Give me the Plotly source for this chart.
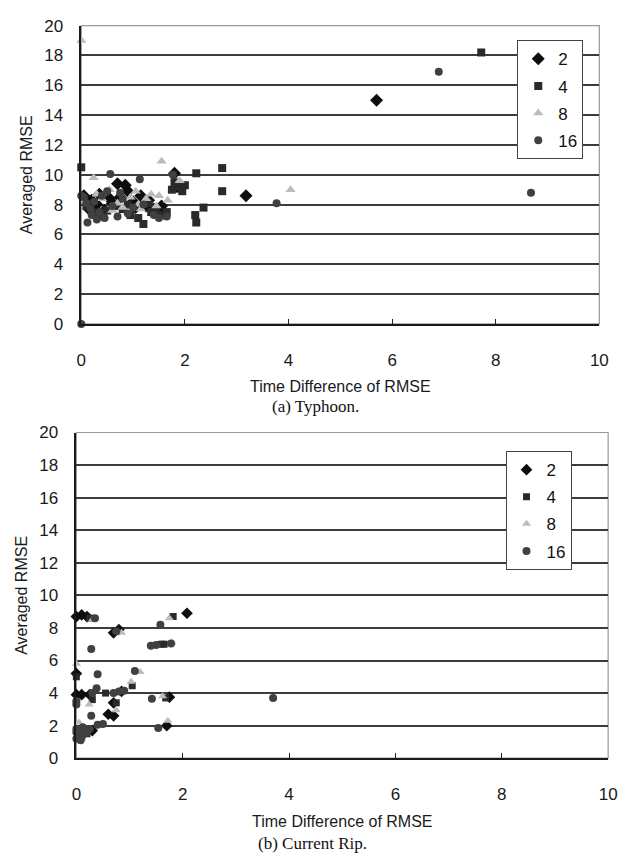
import plotly.graph_objects as go

# ---------------- (a) Typhoon ----------------
typhoon_2_x = [0.05, 0.15, 0.2, 0.3, 0.35, 0.45, 0.55, 0.6, 0.7, 0.75, 0.85, 0.9, 1.0, 1.05, 1.15, 1.25, 1.3, 1.4, 1.55, 1.6, 1.8, 1.85, 3.18, 5.7]
typhoon_2_y = [8.6, 7.7, 8.3, 8.0, 8.7, 7.6, 8.4, 8.1, 9.4, 8.5, 9.3, 8.9, 8.2, 7.8, 8.6, 7.9, 8.3, 7.7, 7.9, 7.4, 10.1, 9.2, 8.6, 15.0]

typhoon_4_x = [0.0, 0.1, 0.25, 0.4, 0.5, 0.65, 0.8, 0.9, 0.95, 1.1, 1.2, 1.3, 1.35, 1.45, 1.55, 1.65, 1.75, 1.8, 1.9, 1.95, 2.0, 2.22, 2.2, 2.22, 2.36, 2.72, 2.72, 7.72]
typhoon_4_y = [10.5, 7.9, 7.4, 7.2, 7.6, 7.9, 7.7, 8.0, 7.3, 7.1, 6.7, 8.1, 7.5, 7.6, 7.3, 7.5, 9.0, 9.5, 9.2, 8.9, 9.3, 10.1, 7.3, 6.8, 7.8, 10.45, 8.9, 18.2]

typhoon_8_x = [0.0, 0.24, 0.3, 0.4, 0.55, 0.6, 0.7, 0.8, 0.95, 1.05, 1.1, 1.15, 1.25, 1.35, 1.45, 1.5, 1.55, 1.67, 1.9, 4.04]
typhoon_8_y = [19.0, 9.8, 8.7, 8.4, 9.0, 7.6, 8.1, 7.8, 8.5, 8.9, 8.0, 7.7, 8.4, 8.7, 7.9, 8.6, 10.9, 8.3, 9.6, 9.0]

typhoon_16_x = [0.0, 0.0, 0.05, 0.1, 0.12, 0.18, 0.2, 0.25, 0.3, 0.35, 0.4, 0.45, 0.5, 0.56, 0.6, 0.7, 0.75, 0.8, 0.9, 1.0, 1.13, 1.2, 1.4, 1.5, 1.65, 1.77, 3.77, 6.9, 8.68]
typhoon_16_y = [0.0, 8.6, 8.5, 8.1, 6.8, 7.7, 7.3, 8.2, 7.0, 7.5, 8.6, 7.1, 8.9, 10.05, 7.9, 7.2, 8.8, 8.4, 7.4, 7.8, 9.7, 8.0, 7.3, 7.1, 7.2, 10.0, 8.1, 16.9, 8.8]

# ---------------- (b) Current Rip ----------------
rip_2_x = [0.0, 0.1, 0.2, 0.7, 0.8, 2.08, 0.0, 0.0, 0.1, 0.25, 0.6, 0.7, 1.7, 0.7, 0.05, 0.15, 1.75, 0.85, 0.3]
rip_2_y = [8.7, 8.8, 8.7, 7.7, 7.9, 8.9, 5.2, 3.9, 3.9, 3.9, 2.7, 2.6, 2.0, 3.4, 1.5, 1.6, 3.75, 4.1, 1.7]

rip_4_x = [0.25, 1.82, 1.65, 0.0, 1.05, 0.0, 0.75, 0.05, 0.2, 1.68, 0.55, 0.3, 0.1, 1.6]
rip_4_y = [8.6, 8.7, 7.0, 5.0, 4.45, 3.4, 3.4, 1.3, 1.5, 3.7, 4.0, 3.6, 1.8, 7.0]

rip_8_x = [0.3, 0.85, 1.75, 0.0, 1.2, 1.03, 0.24, 0.75, 1.72, 1.62, 0.1, 0.35, 0.05, 1.8]
rip_8_y = [8.5, 7.7, 8.6, 5.8, 5.3, 4.7, 3.3, 2.95, 2.3, 3.8, 1.2, 4.2, 2.2, 7.1]

rip_16_x = [0.35, 0.28, 0.75, 1.58, 1.4, 1.5, 1.78, 0.4, 1.1, 0.7, 0.8, 0.9, 0.38, 1.42, 0.0, 0.0, 0.28, 0.4, 0.5, 0.0, 0.05, 0.1, 0.15, 0.2, 0.0, 0.08, 0.25, 1.54, 3.7, 0.0, 0.12, 0.3]
rip_16_y = [8.6, 6.7, 7.8, 8.2, 6.9, 6.95, 7.05, 5.15, 5.35, 4.0, 4.1, 4.15, 4.3, 3.65, 3.3, 3.5, 2.6, 2.05, 2.1, 1.2, 1.4, 1.3, 1.5, 1.6, 1.6, 1.1, 1.8, 1.85, 3.7, 1.8, 1.9, 4.0]

series_names = ["2", "4", "8", "16"]
x_ticks = [0, 2, 4, 6, 8, 10]
y_ticks = [0, 2, 4, 6, 8, 10, 12, 14, 16, 18, 20]

symbols = ["diamond", "square", "triangle-up", "circle"]
colors = ["#0d0d0d", "#2a2a2a", "#bcbcbc", "#404040"]
top_sizes = [10, 8, 9, 8]
bottom_sizes = [9, 7, 8, 8]

W, H = 624, 867


def px_x(p):
    return p / W


def px_y(p):
    return 1 - p / H


fig = go.Figure()

panels = [
    ("x", "y", "legend", top_sizes,
     [(typhoon_2_x, typhoon_2_y), (typhoon_4_x, typhoon_4_y),
      (typhoon_8_x, typhoon_8_y), (typhoon_16_x, typhoon_16_y)]),
    ("x2", "y2", "legend2", bottom_sizes,
     [(rip_2_x, rip_2_y), (rip_4_x, rip_4_y),
      (rip_8_x, rip_8_y), (rip_16_x, rip_16_y)]),
]

for xa, ya, leg, sizes, data in panels:
    for i, (xs, ys) in enumerate(data):
        fig.add_trace(go.Scatter(
            x=xs, y=ys, mode="markers", name=series_names[i],
            xaxis=xa, yaxis=ya, legend=leg, legendgroup=leg + series_names[i],
            cliponaxis=False,
            marker=dict(symbol=symbols[i], size=sizes[i], color=colors[i],
                        line=dict(width=0)),
        ))

sans = "Liberation Sans, Arial, sans-serif"
tick_font = dict(family=sans, size=17, color="#1a1a1a")
title_font = dict(family=sans, size=16, color="#1a1a1a")


def x_axis(domain, anchor):
    return dict(domain=domain, anchor=anchor, range=[0, 10], tickvals=x_ticks,
                ticks="inside", ticklen=5, tickcolor="#222", tickwidth=1,
                showgrid=False, zeroline=False, showline=True, linecolor="#1a1a1a",
                linewidth=1.5, tickfont=tick_font, ticklabelstandoff=20,
                title=dict(text="Time Difference of RMSE", font=title_font, standoff=12))


def y_axis(domain, anchor):
    return dict(domain=domain, anchor=anchor, range=[0, 20], tickvals=y_ticks,
                ticks="", showgrid=True, gridcolor="#3c3c3c", gridwidth=1.5,
                zeroline=False, showline=True, linecolor="#1a1a1a", linewidth=1.5,
                tickfont=tick_font, ticklabelstandoff=13,
                title=dict(text="Averaged RMSE", font=title_font, standoff=8))


top_x = [px_x(78), px_x(608)]
top_y = [px_y(322), px_y(17)]
bot_x = [px_x(73), px_x(617)]
bot_y = [px_y(766), px_y(433)]

legend_style = dict(xanchor="left", yanchor="top", bgcolor="white",
                    bordercolor="#444", borderwidth=1,
                    font=dict(family=sans, size=17, color="#111"),
                    tracegroupgap=2, itemwidth=30)

fig.update_layout(
    width=W, height=H,
    margin=dict(l=0, r=0, t=0, b=0),
    paper_bgcolor="white", plot_bgcolor="white",
    xaxis=x_axis(top_x, "y"), yaxis=y_axis(top_y, "x"),
    xaxis2=x_axis(bot_x, "y2"), yaxis2=y_axis(bot_y, "x2"),
    legend=dict(x=px_x(524), y=px_y(32), **legend_style),
    legend2=dict(x=px_x(512), y=px_y(452), **legend_style),
    showlegend=True,
)

# light frame along the top and right of each plot area
for xd, yd in [("x domain", "y domain"), ("x2 domain", "y2 domain")]:
    fig.add_shape(type="rect", xref=xd, yref=yd, x0=0, x1=1, y0=0, y1=1,
                  line=dict(color="#9a9a9a", width=1.2), layer="below")

caption_font = dict(family="Liberation Serif, Times New Roman, serif", size=17, color="#111")
fig.add_annotation(text="(a) Typhoon.", xref="paper", yref="paper",
                   x=px_x(318), y=px_y(406), yanchor="middle",
                   showarrow=False, font=caption_font)
fig.add_annotation(text="(b) Current Rip.", xref="paper", yref="paper",
                   x=px_x(315), y=px_y(853), yanchor="middle",
                   showarrow=False, font=caption_font)

fig.write_html("out.html")
